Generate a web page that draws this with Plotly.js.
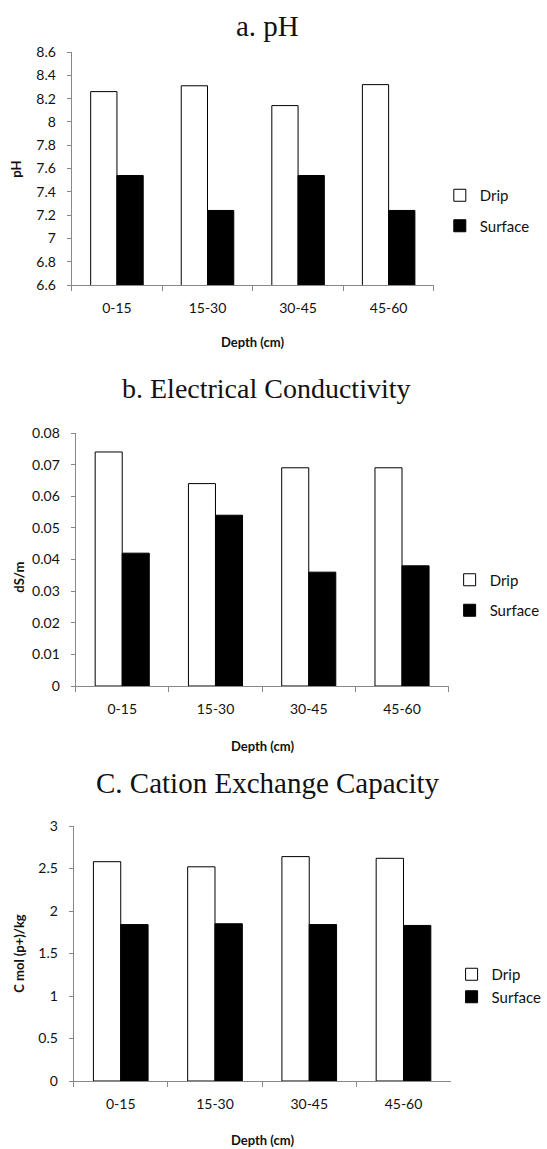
<!DOCTYPE html>
<html><head><meta charset="utf-8">
<script src="https://cdn.plot.ly/plotly-3.0.1.min.js"></script>
<style>body{margin:0;background:#fff}</style>
</head><body><div id="chart" style="width:547px;height:1149px"></div>
<script>
const depths = ['0-15','15-30','30-45','45-60'];
const phDrip = [8.26, 8.31, 8.14, 8.32];
const phSurface = [7.54, 7.24, 7.54, 7.24];
const ecDrip = [0.074, 0.064, 0.069, 0.069];
const ecSurface = [0.042, 0.054, 0.036, 0.038];
const cecDrip = [2.58, 2.52, 2.64, 2.62];
const cecSurface = [1.84, 1.85, 1.84, 1.83];
const seriesNames = ['Drip','Surface'];
const panelTitles = ['a. pH','b. Electrical Conductivity','C. Cation Exchange Capacity'];
const yTitles = ['pH','dS/m','C mol (p+)/kg'];
const xTitle = 'Depth (cm)';
const yRanges = [[6.6, 8.6],[0, 0.08],[0, 3]];
const yDticks = [0.2, 0.01, 0.5];

const W = 547, H = 1149;
const X = px => px / W;
const Y = py => 1 - py / H;

// pixel layout of each panel
const P = [
  {x0:73, x1:442, y0:52, y1:285, legX:448, legY:210.5, gap:8, titleX:272, titleY:26, titleSize:29, xtY:342, ytX:16, ytY:169},
  {x0:77, x1:457, y0:433, y1:686, legX:458, legY:595, gap:8, titleX:271, titleY:388, titleSize:28, xtY:746, ytX:19, ytY:577},
  {x0:75, x1:459, y0:826, y1:1081, legX:460, legY:985.5, gap:0, titleX:273, titleY:783, titleSize:29, xtY:1140, ytX:19, ytY:953}
];
const dripData = [phDrip, ecDrip, cecDrip];
const surfData = [phSurface, ecSurface, cecSurface];

const FONT = 'Lato, "Open Sans", sans-serif';
const SERIF = '"Liberation Serif", "DejaVu Serif", serif';

const data = [];
const layout = {
  width: W, height: H,
  margin: {l:0, r:0, t:0, b:0},
  paper_bgcolor: '#fff', plot_bgcolor: '#fff',
  barmode: 'group', bargap: 0.42, bargroupgap: 0,
  font: {family: FONT, size: 14, color: '#111'},
  annotations: [],
  showlegend: true
};

P.forEach((p, i) => {
  const n = i + 1;
  const xa = n === 1 ? 'x' : 'x' + n;
  const ya = n === 1 ? 'y' : 'y' + n;
  const lg = n === 1 ? 'legend' : 'legend' + n;
  data.push({
    type: 'bar', x: depths, y: dripData[i], name: seriesNames[0],
    xaxis: xa, yaxis: ya, legend: lg, legendgroup: 'g' + n + 'a',
    marker: {color: '#ffffff', line: {color: '#000', width: 1}}
  });
  data.push({
    type: 'bar', x: depths, y: surfData[i], name: seriesNames[1],
    xaxis: xa, yaxis: ya, legend: lg, legendgroup: 'g' + n + 'b',
    marker: {color: '#000000', line: {color: '#000', width: 1}}
  });
  const xk = n === 1 ? 'xaxis' : 'xaxis' + n;
  const yk = n === 1 ? 'yaxis' : 'yaxis' + n;
  layout[xk] = {
    domain: [X(p.x0), X(p.x1)], anchor: ya,
    type: 'category', showgrid: false, zeroline: false,
    showline: true, linecolor: '#888', linewidth: 1,
    ticks: 'outside', tickson: 'boundaries', ticklen: 5, tickcolor: '#888',
    ticklabelstandoff: 10,
    tickfont: {family: FONT, size: 14, color: '#111'}
  };
  layout[yk] = {
    domain: [Y(p.y1), Y(p.y0)], anchor: xa,
    range: yRanges[i], dtick: yDticks[i], tick0: yRanges[i][0],
    showgrid: false, zeroline: false,
    showline: true, linecolor: '#888', linewidth: 1,
    ticks: 'outside', ticklen: 4, tickcolor: '#888',
    ticklabelstandoff: 8,
    tickfont: {family: FONT, size: 14, color: '#111'}
  };
  layout[lg] = {
    x: X(p.legX), xanchor: 'left', y: Y(p.legY), yanchor: 'middle',
    xref: 'paper', yref: 'paper',
    bgcolor: 'rgba(0,0,0,0)', borderwidth: 0,
    traceorder: 'grouped', tracegroupgap: p.gap,
    font: {family: FONT, size: 15, color: '#111'}
  };
  layout.annotations.push({
    text: panelTitles[i], xref: 'paper', yref: 'paper',
    x: X(p.titleX), y: Y(p.titleY), xanchor: 'center', yanchor: 'middle',
    showarrow: false, font: {family: SERIF, size: p.titleSize, color: '#111'}
  });
  layout.annotations.push({
    text: '<b>' + xTitle + '</b>', xref: 'paper', yref: 'paper',
    x: X((p.x0 + p.x1) / 2), y: Y(p.xtY), xanchor: 'center', yanchor: 'middle',
    showarrow: false, font: {family: FONT, size: 13, color: '#111'}
  });
  layout.annotations.push({
    text: '<b>' + yTitles[i] + '</b>', xref: 'paper', yref: 'paper',
    x: X(p.ytX), y: Y(p.ytY), xanchor: 'center', yanchor: 'middle',
    textangle: -90, showarrow: false, font: {family: FONT, size: 13, color: '#111'}
  });
});

Plotly.newPlot('chart', data, layout, {displayModeBar: false, staticPlot: true});
</script>
</body></html>
